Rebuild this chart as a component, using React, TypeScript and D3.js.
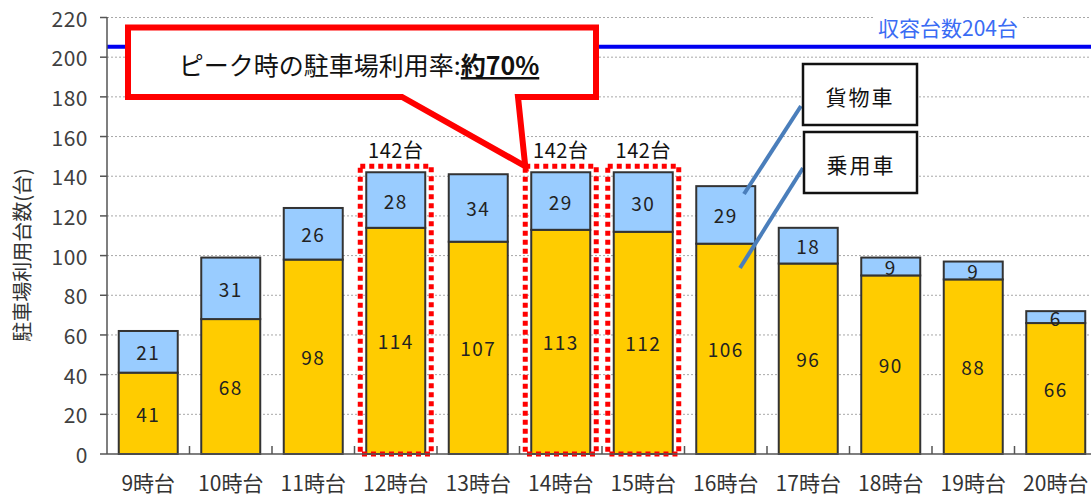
import React from "react";
import * as d3 from "d3";

const categories = ["9時台", "10時台", "11時台", "12時台", "13時台", "14時台", "15時台", "16時台", "17時台", "18時台", "19時台", "20時台"];
const passengerCars = [41, 68, 98, 114, 107, 113, 112, 106, 96, 90, 88, 66];
const freightCars = [21, 31, 26, 28, 34, 29, 30, 29, 18, 9, 9, 6];
const peakCategories = ["12時台", "14時台", "15時台"];
const yTicks = [0, 20, 40, 60, 80, 100, 120, 140, 160, 180, 200, 220];
const capacity = 204;
const capacityLabel = "収容台数204台";
const yAxisLabel = "駐車場利用台数(台)";
const calloutText = "ピーク時の駐車場利用率:";
const calloutBold = "約70%";
const legendFreight = "貨物車";
const legendPassenger = "乗用車";

const W = 1091;
const H = 497;
const FONT = "'Noto Sans CJK JP', 'Noto Sans', sans-serif";

export default function App() {
  const x = d3.scaleBand<string>().domain(categories).range([107, 1097]).paddingInner(0.285).paddingOuter(0.1425);
  const y = d3.scaleLinear().domain([0, 220]).range([454, 17.5]);
  const bw = x.bandwidth();
  const step = x.step();

  const stack = categories.map((c, i) => ({
    c,
    car: passengerCars[i],
    truck: freightCars[i],
    total: passengerCars[i] + freightCars[i],
  }));

  const x14 = x("14時台")!;
  const tipX = x14 - 6;
  const tipY = y(passengerCars[5] + freightCars[5]) - 6;
  const calloutPath = `M128,27.5 L596,27.5 L596,97 L518,97 L${tipX},${tipY} L402,97 L128,97 Z`;

  return (
    <div style={{ position: "absolute", left: 0, top: 0 }}>
      <svg width={W} height={H} style={{ display: "block", background: "#fff" }} fontFamily={FONT}>
        {/* gridlines */}
        {yTicks.filter((t) => t > 0).map((t) => (
          <line key={t} x1={107} x2={W} y1={y(t)} y2={y(t)} stroke="#a8a8a8" strokeWidth={1} strokeDasharray="2,2" />
        ))}
        {/* capacity line */}
        <line x1={107} x2={W} y1={y(capacity) - 2.5} y2={y(capacity) - 2.5} stroke="#0000f0" strokeWidth={4} />
        <rect x={873} y={10} width={150} height={14} fill="#fff" />
        <text x={948} y={27} textAnchor="middle" dominantBaseline="central" fontSize={21} fill="#3a6cf4">
          {capacityLabel}
        </text>

        {/* bars */}
        {stack.map((d) => {
          const bx = x(d.c)!;
          return (
            <g key={d.c}>
              <rect x={bx} y={y(d.car)} width={bw} height={y(0) - y(d.car)} fill="#ffcc00" stroke="#333" strokeWidth={2} />
              <rect x={bx} y={y(d.total)} width={bw} height={y(d.car) - y(d.total)} fill="#99ccff" stroke="#333" strokeWidth={2} />
              <text x={bx + bw / 2} y={y(d.car / 2)} textAnchor="middle" dominantBaseline="central" fontSize={19} letterSpacing={1.5} fill="#222">
                {d.car}
              </text>
              <text x={bx + bw / 2} y={y(d.car + d.truck / 2)} textAnchor="middle" dominantBaseline="central" fontSize={19} letterSpacing={1.5} fill="#222">
                {d.truck}
              </text>
            </g>
          );
        })}

        {/* peak dotted boxes */}
        {stack.filter((d) => peakCategories.includes(d.c)).map((d) => {
          const bx = x(d.c)!;
          return (
            <g key={"pk" + d.c}>
              <rect x={bx - 6} y={y(d.total) - 6} width={bw + 12} height={y(0) - y(d.total) + 6} fill="none" stroke="#ff0000" strokeWidth={5} strokeDasharray="5,4" />
              <text x={bx + bw / 2} y={y(d.total) - 23} textAnchor="middle" dominantBaseline="central" fontSize={20} letterSpacing={0.5} fill="#111">
                {d.total + "台"}
              </text>
            </g>
          );
        })}

        {/* axes */}
        <line x1={107} x2={107} y1={17} y2={454} stroke="#555" strokeWidth={1.5} />
        <line x1={107} x2={W} y1={454} y2={454} stroke="#555" strokeWidth={1.5} />
        {yTicks.map((t) => (
          <g key={"yt" + t}>
            <line x1={100} x2={107} y1={y(t)} y2={y(t)} stroke="#555" strokeWidth={1.5} />
            <text x={88} y={y(t)} textAnchor="end" dominantBaseline="central" fontSize={21} letterSpacing={0.5} fill="#404040">
              {t}
            </text>
          </g>
        ))}
        {categories.map((c, i) => (
          <g key={"xt" + c}>
            {i > 0 && <line x1={107 + i * step} x2={107 + i * step} y1={446} y2={454} stroke="#555" strokeWidth={1.5} />}
            <text x={x(c)! + bw / 2} y={482} textAnchor="middle" dominantBaseline="central" fontSize={21} fill="#333">
              {c}
            </text>
          </g>
        ))}
        <text transform="translate(21,255) rotate(-90)" textAnchor="middle" dominantBaseline="central" fontSize={20} fill="#333">
          {yAxisLabel}
        </text>

        {/* callout */}
        <path d={calloutPath} fill="#fff" stroke="#ff0000" strokeWidth={6} strokeLinejoin="miter" />
        <text x={359} y={64} textAnchor="middle" dominantBaseline="central" fontSize={25} fill="#111">
          <tspan>{calloutText}</tspan>
          <tspan fontWeight="bold" textDecoration="underline">{calloutBold}</tspan>
        </text>

        {/* legend leader lines */}
        <line x1={801} y1={106} x2={744} y2={194} stroke="#4a7ebb" strokeWidth={4} />
        <line x1={803} y1={168} x2={740} y2={268} stroke="#4a7ebb" strokeWidth={4} />
        <rect x={803} y={64} width={114} height={61} fill="#fff" stroke="#111" strokeWidth={2.5} />
        <text x={860} y={96} textAnchor="middle" dominantBaseline="central" fontSize={21} letterSpacing={2} fill="#111">
          {legendFreight}
        </text>
        <rect x={804} y={132} width={113} height={61} fill="#fff" stroke="#111" strokeWidth={2.5} />
        <text x={861} y={164} textAnchor="middle" dominantBaseline="central" fontSize={21} letterSpacing={2} fill="#111">
          {legendPassenger}
        </text>
      </svg>
    </div>
  );
}
